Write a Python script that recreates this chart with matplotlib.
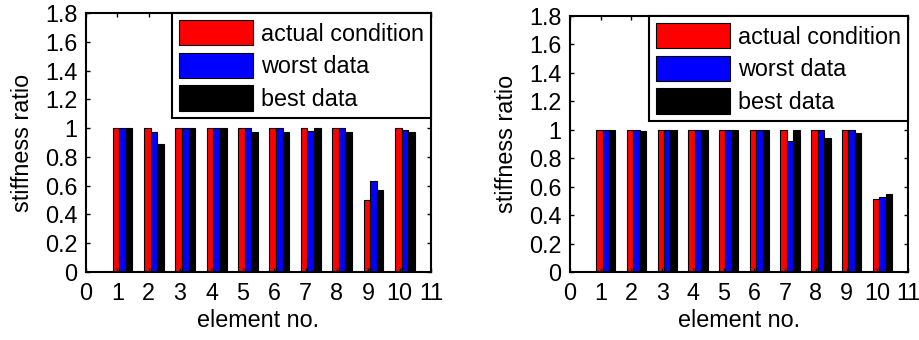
import matplotlib
matplotlib.use("Agg")
import matplotlib.pyplot as plt
import numpy as np

plt.rcParams['font.family'] = ['Liberation Sans', 'DejaVu Sans']

elements = [1, 2, 3, 4, 5, 6, 7, 8, 9, 10]
series_names = ["actual condition", "worst data", "best data"]

# case A: damage in element 9
actual_a = [1.0, 1.0, 1.0, 1.0, 1.0, 1.0, 1.0, 1.0, 0.50, 1.0]
worst_a = [1.0, 0.97, 1.0, 1.0, 1.0, 1.0, 0.98, 1.0, 0.63, 0.99]
best_a = [1.0, 0.89, 1.0, 1.0, 0.97, 0.97, 1.0, 0.97, 0.57, 0.97]

# case B: damage in element 10
actual_b = [1.0, 1.0, 1.0, 1.0, 1.0, 1.0, 1.0, 1.0, 1.0, 0.51]
worst_b = [1.0, 1.0, 1.0, 1.0, 1.0, 1.0, 0.92, 1.0, 1.0, 0.53]
best_b = [1.0, 0.99, 1.0, 1.0, 1.0, 1.0, 1.0, 0.94, 0.98, 0.55]

xticks = list(range(0, 12))
yticks = [0, 0.2, 0.4, 0.6, 0.8, 1.0, 1.2, 1.4, 1.6, 1.8]
ytick_labels = ["0", "0.2", "0.4", "0.6", "0.8", "1", "1.2", "1.4", "1.6", "1.8"]

colors = ["#ff0000", "#0000ff", "#000000"]
offsets = [-0.15, 0.06, 0.27]
width = 0.21
FS = 16.8

fig = plt.figure(figsize=(9.2, 3.4), dpi=100)
ax_l = fig.add_axes([86 / 920, 1 - 272 / 340, 345 / 920, (272 - 13) / 340])
ax_r = fig.add_axes([570 / 920, 1 - 272 / 340, 338 / 920, (272 - 16) / 340])


def draw(ax, data):
    x = np.array(elements, dtype=float)
    for vals, off, c, name in zip(data, offsets, colors, series_names):
        ax.bar(x + off, vals, width=width, align='edge', color=c,
               edgecolor='black', linewidth=0.8, label=name)
    ax.set_xlim(0, 11)
    ax.set_ylim(0, 1.8)
    ax.set_xticks(xticks)
    ax.set_xticklabels([str(t) for t in xticks])
    ax.set_yticks(yticks)
    ax.set_yticklabels(ytick_labels)
    ax.tick_params(direction='in', top=True, right=True, length=3,
                   width=1.0, labelsize=FS)
    ax.tick_params(axis='x', pad=7)
    ax.tick_params(axis='y', pad=6)
    for sp in ax.spines.values():
        sp.set_linewidth(1.5)
    ax.set_xlabel("element no.", fontsize=FS, labelpad=3)
    ax.set_ylabel("stiffness ratio", fontsize=FS, labelpad=8)
    leg = ax.legend(loc='upper right', bbox_to_anchor=(1, 1),
                    borderaxespad=0, fancybox=False, framealpha=1,
                    edgecolor='black', fontsize=FS, handlelength=3.15,
                    handleheight=1.3, labelspacing=0.3, handletextpad=0.35,
                    borderpad=0.3)
    leg.get_frame().set_linewidth(1.5)


draw(ax_l, [actual_a, worst_a, best_a])
draw(ax_r, [actual_b, worst_b, best_b])

fig.savefig("out.png", dpi=100)
